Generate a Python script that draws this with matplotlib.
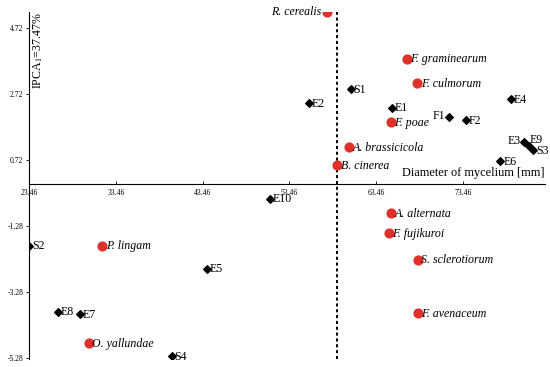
import matplotlib.pyplot as plt

plt.rcParams['font.family'] = ['Liberation Serif', 'DejaVu Serif']
plt.rcParams['mathtext.fontset'] = 'stix'

# fungi (red circles)
fungi = ['R. cerealis', 'F. graminearum', 'F. culmorum', 'F. poae', 'A. brassicicola',
         'B. cinerea', 'A. alternata', 'F. fujikuroi', 'S. sclerotiorum', 'F. avenaceum',
         'P. lingam', 'O. yallundae']
fungi_x = [57.83, 66.97, 68.20, 65.16, 60.29, 58.98, 65.16, 64.93, 68.24, 68.24, 31.90, 30.34]
fungi_y = [5.20, 3.79, 3.05, 1.85, 1.11, 0.55, -0.89, -1.50, -2.31, -3.92, -1.88, -4.83]

# strains (black diamonds)
strains = ['S1', 'E2', 'E1', 'F1', 'F2', 'E4', 'E3', 'E9', 'S3', 'E6',
           'E10', 'E5', 'S2', 'E8', 'E7', 'S4']
strains_x = [60.52, 55.72, 65.24, 71.85, 73.77, 78.99, 80.52, 81.03, 81.56, 77.76,
             51.22, 43.93, 23.49, 26.80, 29.34, 39.90]
strains_y = [2.87, 2.44, 2.30, 2.02, 1.92, 2.56, 1.25, 1.15, 1.02, 0.68,
             -0.46, -2.58, -1.88, -3.88, -3.97, -5.24]

xticks = [23.46, 33.46, 43.46, 53.46, 63.46, 73.46]
yticks = [4.72, 2.72, 0.72, -1.28, -3.28, -5.28]
mean_x = 58.9

fig = plt.figure(figsize=(5.5, 3.67), dpi=100)
ax = fig.add_axes([29 / 550, 1 - 359 / 367, 516 / 550, 347 / 367])
ax.set_xlim(23.46, 82.9)
ax.set_ylim(-5.32, 5.2)

ax.spines['top'].set_visible(False)
ax.spines['right'].set_visible(False)
ax.spines['left'].set_position(('data', 23.46))
ax.spines['bottom'].set_position(('data', 0))
ax.spines['left'].set_linewidth(0.8)
ax.spines['bottom'].set_linewidth(0.8)

ax.set_xticks(xticks)
ax.set_xticklabels([f'{v:.2f}' for v in xticks])
ax.set_yticks(yticks)
ax.set_yticklabels([f'{v:.2f}' for v in yticks])
ax.tick_params(axis='x', direction='in', length=2, labelsize=5.5, pad=4, width=0.6)
ax.tick_params(axis='y', direction='out', length=2, labelsize=5.5, pad=2, width=0.6)

ax.axvline(mean_x, ymin=0, ymax=1, color='black', linestyle=(0, (1.6, 1.4)), linewidth=1.4, zorder=1)

ax.scatter(fungi_x, fungi_y, s=40, color='#e0302a', zorder=3)
ax.scatter(strains_x, strains_y, s=15, marker='D', color='black', zorder=3)

fs = 8.6
left_labels = {'R. cerealis', 'F1', 'E3'}
for name, x, y in zip(fungi, fungi_x, fungi_y):
    if name in left_labels:
        ax.annotate(name, (x, y), xytext=(-4, 0), textcoords='offset points',
                    ha='right', va='center', fontsize=fs, style='italic')
    else:
        ax.annotate(name, (x, y), xytext=(2.5, -0.5), textcoords='offset points',
                    ha='left', va='center', fontsize=fs, style='italic')

for name, x, y in zip(strains, strains_x, strains_y):
    if name in left_labels:
        ax.annotate(name, (x, y), xytext=(-2.5, 1), textcoords='offset points',
                    ha='right', va='center', fontsize=fs)
    elif name == 'E9':
        ax.annotate(name, (x, y), xytext=(0.5, 4), textcoords='offset points',
                    ha='left', va='center', fontsize=fs)
    else:
        ax.annotate(name, (x, y), xytext=(2, -0.5), textcoords='offset points',
                    ha='left', va='center', fontsize=fs)

ax.text(82.9, 0.15, 'Diameter of mycelium [mm]', ha='right', va='bottom', fontsize=8.8)
ax.text(23.46 + 0.3, 5.2, 'IPCA$_1$=37.47%', rotation=90, ha='left', va='top', fontsize=8.6)

fig.savefig('out.png', dpi=100)
